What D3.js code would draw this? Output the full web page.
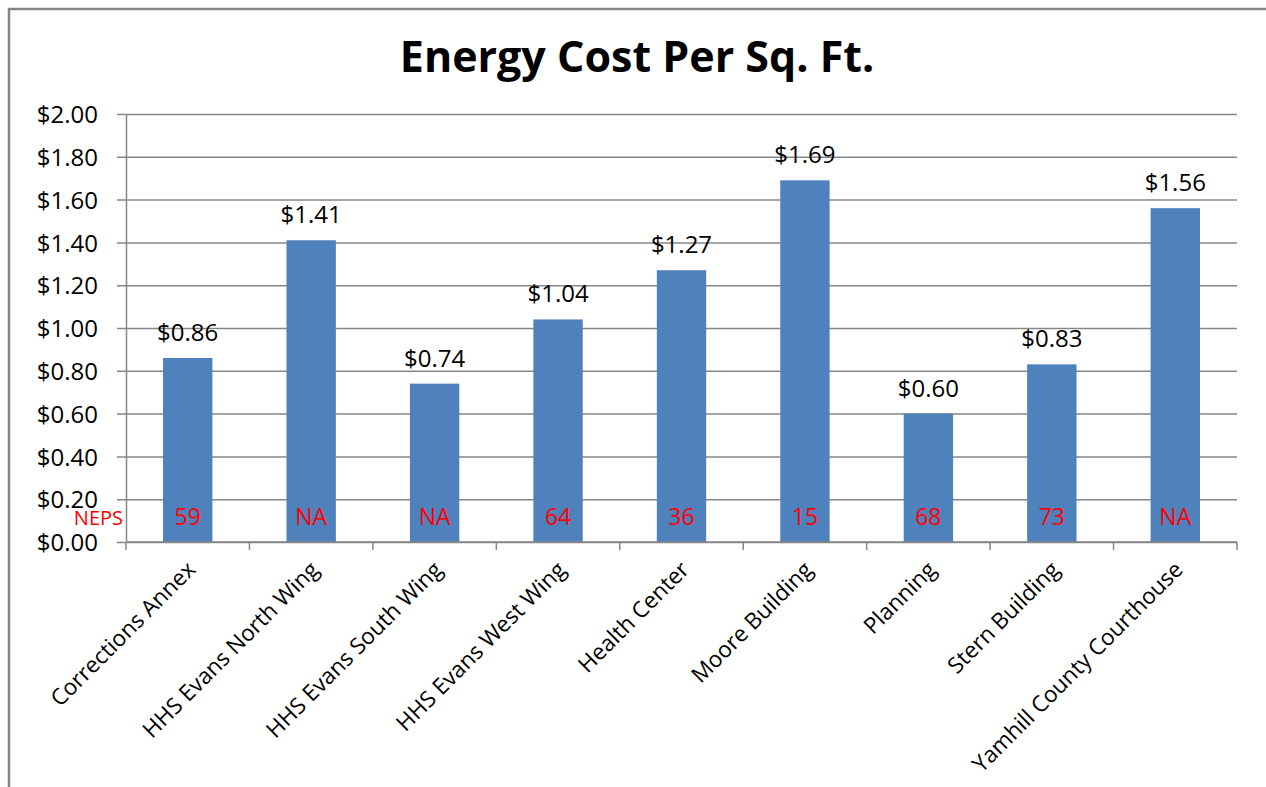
<!DOCTYPE html>
<html lang="en">
<head>
  <meta charset="UTF-8">
  <title>Energy Cost Per Sq. Ft.</title>
  <script src="https://d3js.org/d3.v7.min.js"></script>
  <style>
    body {
      margin: 0;
      background: #fff;
      font-family: "Open Sans", sans-serif;
    }
  </style>
</head>
<body>
  <svg id="chart" width="1266" height="787"></svg>

<script>
// building names along the x axis
const buildings = [
  "Corrections Annex",
  "HHS Evans North Wing",
  "HHS Evans South Wing",
  "HHS Evans West Wing",
  "Health Center",
  "Moore Building",
  "Planning",
  "Stern Building",
  "Yamhill County Courthouse"
];

// energy cost per square foot ($)
const costs = [0.86, 1.41, 0.74, 1.04, 1.27, 1.69, 0.60, 0.83, 1.56];

// NEPS score shown inside each bar
const neps = ["59", "NA", "NA", "64", "36", "15", "68", "73", "NA"];

const yTicks = [0, 0.2, 0.4, 0.6, 0.8, 1.0, 1.2, 1.4, 1.6, 1.8, 2.0];

const data = buildings.map((name, i) => ({ name, cost: costs[i], neps: neps[i] }));

const svg = d3.select("#chart");
const margin = { top: 114, right: 29, bottom: 245, left: 126 };
const width = 1266, height = 787;

// outer frame (top + left edges only are visible in the picture)
svg.append("path")
  .attr("d", `M9,${height} V9 H${width}`)
  .attr("fill", "none")
  .attr("stroke", "#858585")
  .attr("stroke-width", 2.5);

svg.append("text")
  .attr("x", 637)
  .attr("y", 72)
  .attr("text-anchor", "middle")
  .attr("font-size", 43)
  .attr("font-weight", "bold")
  .attr("fill", "#000")
  .text("Energy Cost Per Sq. Ft.");

const x = d3.scaleBand()
  .domain(buildings)
  .range([margin.left, width - margin.right])
  .paddingInner(0.6)
  .paddingOuter(0.3);

const y = d3.scaleLinear()
  .domain([0, 2])
  .range([height - margin.bottom, margin.top]);

// gridlines + y axis
const yAxis = svg.append("g")
  .attr("transform", `translate(${margin.left},0)`)
  .call(d3.axisLeft(y)
    .tickValues(yTicks)
    .tickSize(-(width - margin.left - margin.right))
    .tickSizeOuter(0)
    .tickPadding(28)
    .tickFormat(d3.format("$.2f")));
yAxis.select(".domain").attr("stroke", "#868686").attr("stroke-width", 1.5);
yAxis.selectAll(".tick line")
  .attr("x1", -9)
  .attr("stroke", "#868686")
  .attr("stroke-width", 1.5);
yAxis.selectAll(".tick text")
  .attr("font-size", 24)
  .attr("font-family", "'Open Sans', sans-serif")
  .attr("fill", "#000")
  .attr("dy", "0.36em");

// bars
svg.selectAll(".bar")
  .data(data)
  .enter()
  .append("rect")
  .attr("class", "bar")
  .attr("x", d => x(d.name))
  .attr("y", d => y(d.cost))
  .attr("width", x.bandwidth())
  .attr("height", d => y(0) - y(d.cost))
  .attr("fill", "#4F81BD");

// x axis with category boundary ticks
const step = x.step();
const xAxis = svg.append("g")
  .attr("transform", `translate(0,${y(0)})`);
xAxis.append("line")
  .attr("x1", margin.left)
  .attr("x2", width - margin.right)
  .attr("stroke", "#868686")
  .attr("stroke-width", 1.5);
xAxis.selectAll(".bound")
  .data(d3.range(buildings.length + 1))
  .enter()
  .append("line")
  .attr("x1", i => margin.left + i * step)
  .attr("x2", i => margin.left + i * step)
  .attr("y1", 0)
  .attr("y2", 8)
  .attr("stroke", "#868686")
  .attr("stroke-width", 1.5);

xAxis.selectAll(".xlabel")
  .data(data)
  .enter()
  .append("text")
  .attr("text-anchor", "end")
  .attr("font-size", 22.5)
  .attr("fill", "#000")
  .attr("transform", d => `translate(${x(d.name) + x.bandwidth() / 2 + 9},${29}) rotate(-45)`)
  .text(d => d.name);

// value labels above bars
svg.selectAll(".val")
  .data(data)
  .enter()
  .append("text")
  .attr("x", d => x(d.name) + x.bandwidth() / 2)
  .attr("y", d => y(d.cost) - 17)
  .attr("text-anchor", "middle")
  .attr("font-size", 24)
  .attr("fill", "#000")
  .text(d => "$" + d.cost.toFixed(2));

// NEPS scores in red
svg.selectAll(".neps")
  .data(data)
  .enter()
  .append("text")
  .attr("x", d => x(d.name) + x.bandwidth() / 2)
  .attr("y", y(0) - 17)
  .attr("text-anchor", "middle")
  .attr("font-size", 23)
  .attr("fill", "#FF0000")
  .text(d => d.neps);

svg.append("text")
  .attr("x", 123)
  .attr("y", y(0) - 17)
  .attr("text-anchor", "end")
  .attr("font-size", 20)
  .attr("fill", "#FF0000")
  .text("NEPS");
</script>
</body>
</html>
